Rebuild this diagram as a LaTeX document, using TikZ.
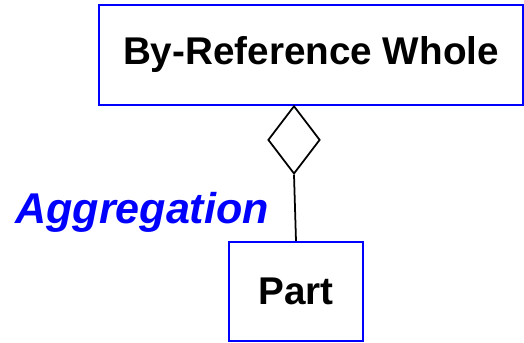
\documentclass[tikz,border=0pt]{standalone}
\usepackage{fontspec}
\setmainfont{Liberation Sans}
\usetikzlibrary{positioning,shapes.geometric}

\begin{document}
\begin{tikzpicture}[
  every node/.style={font=\bfseries},
  classbox/.style={draw=blue,line width=1.2pt,inner sep=0pt,
                   font=\fontsize{22}{26}\selectfont\bfseries},
  aggdiamond/.style={diamond,draw=black,line width=1pt,inner sep=0pt,
                     minimum width=1.04cm,minimum height=1.36cm},
  link/.style={draw=black,line width=1pt}
]
\useasboundingbox (0,0) rectangle (10.48,-6.84);
\node[classbox,minimum width=8.48cm,minimum height=2cm] (whole) at (6.22,-1.1)
  {By-Reference Whole};
\node[aggdiamond,anchor=north] (agg) at (5.88,-2.1) {};
\node[classbox,minimum width=2.68cm,minimum height=1.98cm] (part) at (5.92,-5.83)
  {Part};
\draw[link] (agg.south)--(part.north);
\node[anchor=base west,inner sep=0pt,text=blue,
      font=\fontsize{24.5}{28}\selectfont\bfseries\itshape] (agglabel) at (0.3,-4.46)
  {Aggregation};
\end{tikzpicture}
\end{document}
